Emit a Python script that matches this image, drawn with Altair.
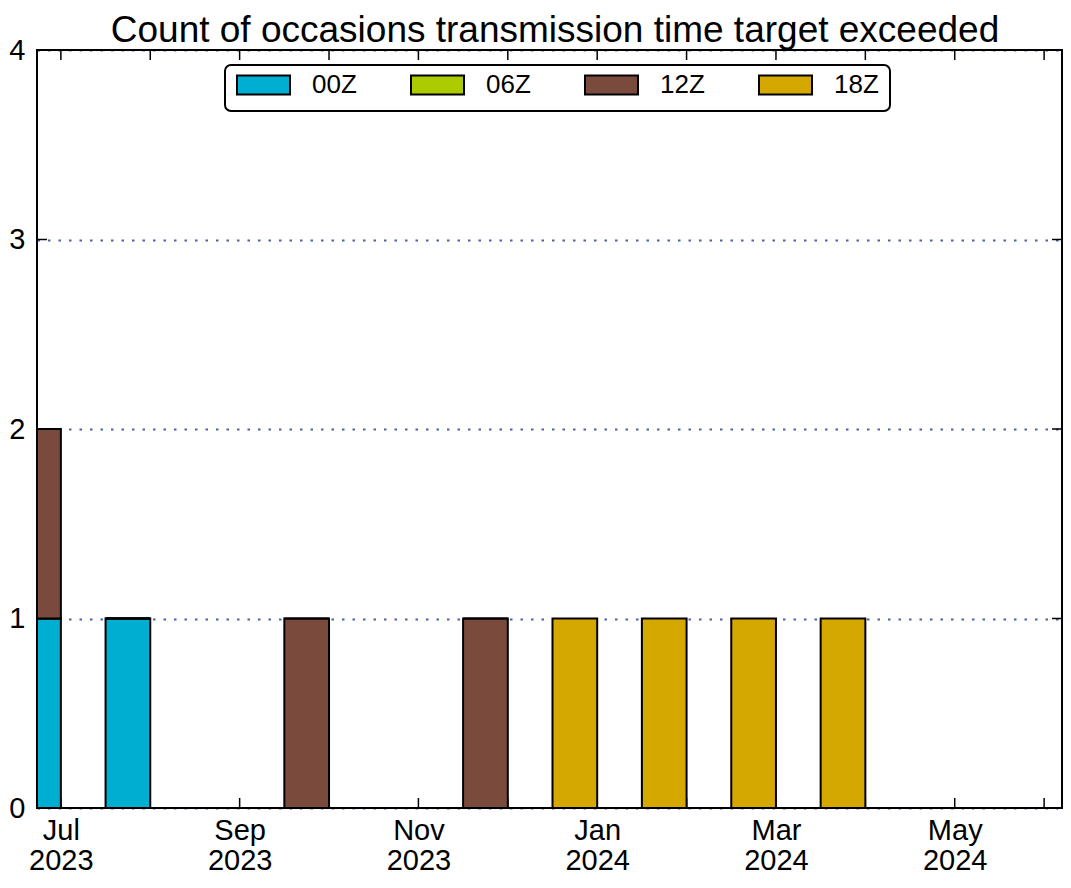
import json
import altair as alt
import pandas as pd

# ---- data ----
months = ["Jul", "Aug", "Sep", "Oct", "Nov", "Dec", "Jan", "Feb", "Mar", "Apr", "May", "Jun"]
years = ["2023", "2023", "2023", "2023", "2023", "2023", "2024", "2024", "2024", "2024", "2024", "2024"]
series = ["00Z", "06Z", "12Z", "18Z"]
counts_00z = [1, 1, 0, 0, 0, 0, 0, 0, 0, 0, 0, 0]
counts_06z = [0, 0, 0, 0, 0, 0, 0, 0, 0, 0, 0, 0]
counts_12z = [1, 0, 0, 1, 0, 1, 0, 0, 0, 0, 0, 0]
counts_18z = [0, 0, 0, 0, 0, 0, 1, 1, 1, 1, 0, 0]
colors = ["#00aed1", "#accb00", "#7a4b3c", "#d5a800"]
y_ticks = [0, 1, 2, 3, 4]
label_months = [0, 2, 4, 6, 8, 10]
title_text = "Count of occasions transmission time target exceeded"

W, H = 1025, 758
FONT = "Liberation Sans"

# stacked long table (bottom to top: 00Z, 06Z, 12Z, 18Z)
rows = []
base = [0] * len(months)
for s_i, (name, vals) in enumerate(zip(series, [counts_00z, counts_06z, counts_12z, counts_18z])):
    for m_i, v in enumerate(vals):
        rows.append({"idx": m_i, "x0": m_i - 0.5, "x1": m_i, "series": name,
                     "order": s_i, "count": v, "lo": base[m_i], "hi": base[m_i] + v})
        base[m_i] += v
df = pd.DataFrame(rows)

label_pairs = [[m, y] for m, y in zip(months, years)]
label_expr = json.dumps(label_pairs) + "[round(datum.value)]"

x_scale = alt.Scale(domain=[-0.267, 11.2], nice=False, zero=False)
y_scale = alt.Scale(domain=[0, 4], nice=False, zero=True)

ticks_x_df = pd.DataFrame({"idx": list(range(len(months)))})
ticks_y_df = pd.DataFrame({"v": y_ticks})

x_axis = alt.Axis(
    values=label_months, labelExpr=label_expr, domain=False, ticks=False, grid=False,
    labelFontSize=29, labelFont=FONT, labelColor="black", labelPadding=8,
    labelLineHeight=30, labelAngle=0, labelAlign="center", labelBaseline="top", title=None,
)
y_axis = alt.Axis(
    values=y_ticks, domain=False, ticks=False, grid=True, gridDash=[2.5, 8],
    gridColor="#4a62a0", gridWidth=2, labelFontSize=29, labelFont=FONT,
    labelColor="black", labelPadding=12, title=None, format="d",
)

bars = alt.Chart(df).mark_rect(stroke="black", strokeWidth=2, clip=True).encode(
    x=alt.X("x0:Q", scale=x_scale, axis=x_axis),
    x2="x1:Q",
    y=alt.Y("lo:Q", scale=y_scale, axis=y_axis),
    y2="hi:Q",
    color=alt.Color(
        "series:N",
        scale=alt.Scale(domain=series, range=colors),
        legend=alt.Legend(
            title=None, orient="none", legendX=199, legendY=7, direction="horizontal",
            symbolType="M-1,-0.36H1V0.36H-1Z", symbolSize=2809, symbolStrokeColor="black",
            symbolStrokeWidth=2, symbolOpacity=1, labelFontSize=26, labelFont=FONT,
            labelColor="black", labelOffset=21, columnPadding=50, padding=0,
        ),
    ),
    order=alt.Order("order:Q"),
)

rule_style = dict(color="black", strokeWidth=1.5)
top_ticks = alt.Chart(ticks_x_df).mark_rule(**rule_style).encode(
    x=alt.X("idx:Q", scale=x_scale), y=alt.value(0), y2=alt.value(10)
)
bottom_ticks = alt.Chart(ticks_x_df).mark_rule(**rule_style).encode(
    x=alt.X("idx:Q", scale=x_scale), y=alt.value(H), y2=alt.value(H - 10)
)
left_ticks = alt.Chart(ticks_y_df).mark_rule(**rule_style).encode(
    y=alt.Y("v:Q", scale=y_scale), x=alt.value(0), x2=alt.value(10)
)
right_ticks = alt.Chart(ticks_y_df).mark_rule(**rule_style).encode(
    y=alt.Y("v:Q", scale=y_scale), x=alt.value(W - 10), x2=alt.value(W)
)

one = pd.DataFrame({"t": [title_text]})
frame = alt.Chart(one).mark_rect(fillOpacity=0, stroke="black", strokeWidth=2).encode(
    x=alt.value(0), x2=alt.value(W), y=alt.value(0), y2=alt.value(H)
)
legend_box = alt.Chart(one).mark_rect(
    fill="white", stroke="black", strokeWidth=2, cornerRadius=6
).encode(x=alt.value(188), x2=alt.value(853), y=alt.value(15), y2=alt.value(61))
title = alt.Chart(one).mark_text(
    font=FONT, fontSize=37, color="black", align="center", baseline="alphabetic"
).encode(text="t:N", x=alt.value(518), y=alt.value(-8))

chart = alt.layer(
    top_ticks, bottom_ticks, left_ticks, right_ticks, bars, frame, legend_box, title
).properties(
    width=W,
    height=H,
    autosize=alt.AutoSizeParams(type="none"),
    padding={"left": 29, "top": 42, "right": 1, "bottom": 68},
).configure_view(stroke=None).configure(background="white")

chart.save("out.html", embed_options={"renderer": "svg", "actions": False})
